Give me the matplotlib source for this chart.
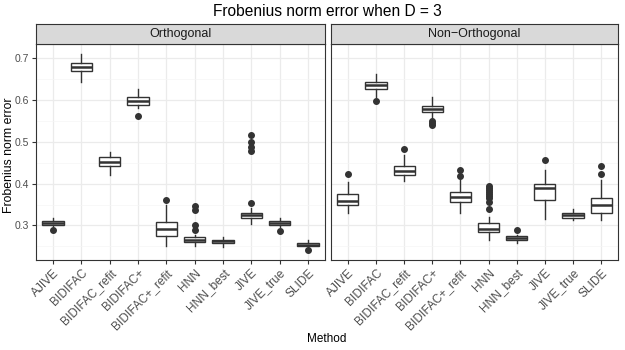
import matplotlib
matplotlib.use("Agg")
import matplotlib.pyplot as plt
import numpy as np

plt.rcParams['font.family'] = ['Liberation Sans', 'DejaVu Sans']

# method names (same order in both panels)
methods = ["AJIVE", "BIDIFAC", "BIDIFAC_refit", "BIDIFAC+", "BIDIFAC+_refit",
           "HNN", "HNN_best", "JIVE", "JIVE_true", "SLIDE"]

# Orthogonal panel: box statistics
orth_q1 = [0.302, 0.668, 0.442, 0.588, 0.274, 0.261, 0.258, 0.318, 0.301, 0.250]
orth_med = [0.306, 0.679, 0.452, 0.598, 0.291, 0.266, 0.262, 0.325, 0.306, 0.254]
orth_q3 = [0.310, 0.689, 0.463, 0.606, 0.309, 0.272, 0.266, 0.331, 0.310, 0.259]
orth_lo = [0.298, 0.642, 0.420, 0.580, 0.252, 0.252, 0.249, 0.303, 0.296, 0.247]
orth_hi = [0.319, 0.710, 0.476, 0.626, 0.350, 0.277, 0.273, 0.341, 0.317, 0.266]
orth_out = [[0.290], [], [], [0.561], [0.361],
            [0.346, 0.337, 0.301, 0.289], [], [0.515, 0.499, 0.488, 0.478, 0.353],
            [0.287], [0.241]]

# Non-Orthogonal panel
non_q1 = [0.350, 0.626, 0.420, 0.570, 0.357, 0.284, 0.265, 0.360, 0.319, 0.329]
non_med = [0.358, 0.635, 0.431, 0.578, 0.369, 0.292, 0.270, 0.390, 0.324, 0.348]
non_q3 = [0.375, 0.643, 0.443, 0.586, 0.381, 0.305, 0.275, 0.398, 0.329, 0.365]
non_lo = [0.329, 0.608, 0.406, 0.556, 0.330, 0.265, 0.259, 0.315, 0.313, 0.314]
non_hi = [0.405, 0.662, 0.468, 0.606, 0.409, 0.321, 0.277, 0.433, 0.339, 0.409]
non_out = [[0.422], [0.598], [0.482], [0.549, 0.544, 0.540], [0.433, 0.417],
           [0.395, 0.390, 0.385, 0.380, 0.375, 0.370, 0.365, 0.355, 0.340],
           [0.289], [0.456], [], [0.442, 0.424]]

panels = ["Orthogonal", "Non\u2212Orthogonal"]

W, H = 625, 350
fig = plt.figure(figsize=(W / 100, H / 100), dpi=100)
fig.patch.set_facecolor("white")

dark = "#333333"
ticktxt = "#4D4D4D"


def make_stats(q1, med, q3, lo, hi, out):
    stats = []
    for i in range(len(q1)):
        stats.append({"q1": q1[i], "med": med[i], "q3": q3[i],
                      "whislo": lo[i], "whishi": hi[i], "fliers": out[i]})
    return stats


all_vals = orth_lo + orth_hi + non_lo + non_hi + sum(orth_out, []) + sum(non_out, [])
vmin, vmax = min(all_vals), max(all_vals)
pad = (vmax - vmin) * 0.05

panel_x = [(36, 325), (331, 618)]
top, bottom = 44, 260
data = [make_stats(orth_q1, orth_med, orth_q3, orth_lo, orth_hi, orth_out),
        make_stats(non_q1, non_med, non_q3, non_lo, non_hi, non_out)]

for k, (x0, x1) in enumerate(panel_x):
    ax = fig.add_axes([x0 / W, 1 - bottom / H, (x1 - x0) / W, (bottom - top) / H])
    pos = np.arange(1, len(methods) + 1)
    ax.bxp(data[k], positions=pos, widths=0.75, patch_artist=True,
           boxprops=dict(facecolor="white", edgecolor=dark, linewidth=1.0),
           medianprops=dict(color=dark, linewidth=1.8),
           whiskerprops=dict(color=dark, linewidth=1.0),
           capprops=dict(linewidth=0),
           flierprops=dict(marker="o", markerfacecolor=dark, markeredgecolor=dark,
                           markersize=4))
    ax.set_xlim(0.4, len(methods) + 0.6)
    ax.set_ylim(vmin - pad, vmax + pad)
    ax.set_yticks([0.3, 0.4, 0.5, 0.6, 0.7])
    ax.set_yticks([0.25, 0.35, 0.45, 0.55, 0.65], minor=True)
    ax.set_xticks(pos)
    ax.set_xticklabels(methods, rotation=45, ha="right", va="top",
                       rotation_mode="anchor", fontsize=8.6, color=ticktxt)
    ax.grid(True, which="major", color="#EBEBEB", linewidth=0.9)
    ax.grid(True, which="minor", axis="y", color="#F5F5F5", linewidth=0.5)
    ax.set_axisbelow(True)
    for s in ax.spines.values():
        s.set_color(dark)
        s.set_linewidth(0.8)
    ax.tick_params(axis="both", which="major", length=3, color=dark, width=0.8,
                   labelcolor=ticktxt, pad=2)
    ax.tick_params(axis="y", which="major", labelsize=7.5)
    ax.tick_params(axis="y", which="minor", length=0)
    if k == 0:
        ax.set_yticklabels(["0.3", "0.4", "0.5", "0.6", "0.7"])
    else:
        ax.set_yticklabels([])
        ax.tick_params(axis="y", which="major", length=0)

    # facet strip
    sax = fig.add_axes([x0 / W, 1 - top / H, (x1 - x0) / W, 20 / H])
    sax.set_facecolor("#D9D9D9")
    sax.set_xticks([])
    sax.set_yticks([])
    for s in sax.spines.values():
        s.set_color(dark)
        s.set_linewidth(0.8)
    sax.text(0.5, 0.48, panels[k], ha="center", va="center", fontsize=9,
             color="#1A1A1A", transform=sax.transAxes)

fig.text(327 / W, 1 - 11 / H, "Frobenius norm error when D = 3", ha="center",
         va="center", fontsize=11.2)
fig.text(327 / W, 1 - 339 / H, "Method", ha="center", va="center", fontsize=8.5)
fig.text(9 / W, 1 - 155 / H, "Frobenius norm error", ha="center", va="center",
         rotation=90, fontsize=8.8)

fig.savefig("out.png", dpi=100)
